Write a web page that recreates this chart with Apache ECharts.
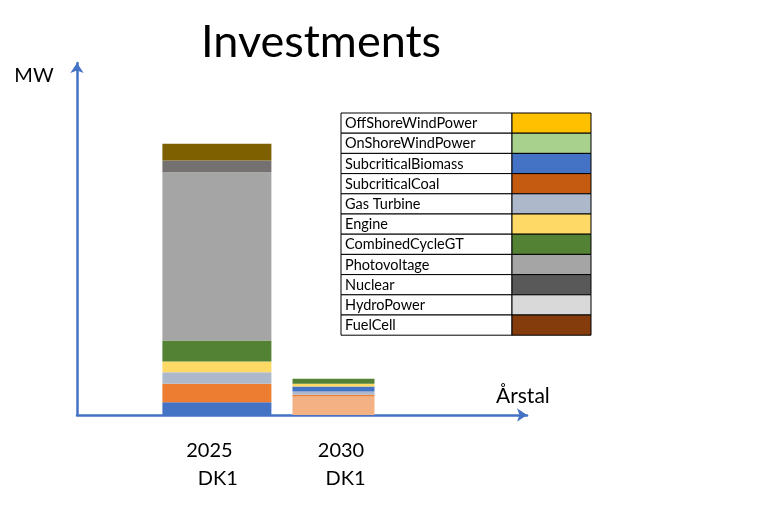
<!DOCTYPE html>
<html>
<head>
<meta charset="utf-8">
<script src="https://cdn.jsdelivr.net/npm/echarts@6/dist/echarts.min.js"></script>
<style>html,body{margin:0;padding:0;background:#fff;}#c{width:776px;height:514px;}</style>
</head>
<body>
<div id="c"></div>
<script>
// ---- data ----
const years = [2025, 2030];
const regionLabel = 'DK1';
// bar 2025 (bottom to top)
const bar2025Names = ['SubcriticalBiomass','SubcriticalCoal','Gas Turbine','Engine','CombinedCycleGT','Photovoltage','Nuclear','FuelCell'];
const bar2025Values = [128, 184, 116, 107, 210, 1683, 117, 167];
// bar 2030 (bottom to top)
const bar2030Names = ['OffShoreWindPower','SubcriticalCoal','Gas Turbine','SubcriticalBiomass','Engine','CombinedCycleGT'];
const bar2030Values = [185, 17, 33, 50, 27, 50];
// legend table
const legendNames = ['OffShoreWindPower','OnShoreWindPower','SubcriticalBiomass','SubcriticalCoal','Gas Turbine','Engine','CombinedCycleGT','Photovoltage','Nuclear','HydroPower','FuelCell'];

// ---- styles ----
const bar2025Colors = ['#4472C4','#ED7D31','#ADB9CA','#FFD966','#548235','#A5A5A5','#767171','#7F6000'];
const bar2030Colors = ['#F4B183','#ED7D31','#ADB9CA','#4472C4','#FFD966','#548235'];
const legendColors = ['#FFC000','#A9D18E','#4472C4','#C55A11','#ADB9CA','#FFD966','#548235','#A5A5A5','#595959','#D9D9D9','#843C0C'];
const FONT = 'Lato';
const axisColor = '#4472C4';
const yMax = 3520;
const xMin = 2019, xMax = 2038.3;

// main grid (axes) + one grid per bar, each centred on its year
const plotLeft = 77, plotWidth = 450, plotTop = 63, plotBottom = 99;
const yearToPx = y => plotLeft + (y - xMin) / (xMax - xMin) * plotWidth;
const barGridW = 120;

const series = [];
bar2025Names.forEach((n, i) => series.push({
  name: n, type: 'bar', stack: 's2025', xAxisIndex: 1, yAxisIndex: 1, barWidth: 109,
  itemStyle: { color: bar2025Colors[i] }, data: [bar2025Values[i]]
}));
bar2030Names.forEach((n, i) => series.push({
  name: n, type: 'bar', stack: 's2030', xAxisIndex: 2, yAxisIndex: 2, barWidth: 82,
  itemStyle: { color: bar2030Colors[i] }, data: [bar2030Values[i]]
}));

// legend table graphics
const tbl = { left: 341, top: 113, w1: 171, w2: 79, rh: 20.2 };
const graphics = [];
legendNames.forEach((n, i) => {
  const y = tbl.top + i * tbl.rh;
  graphics.push({ type: 'rect', shape: { x: tbl.left, y: y, width: tbl.w1, height: tbl.rh },
    style: { fill: '#fff', stroke: '#000', lineWidth: 1 } });
  graphics.push({ type: 'rect', shape: { x: tbl.left + tbl.w1, y: y, width: tbl.w2, height: tbl.rh },
    style: { fill: legendColors[i], stroke: '#000', lineWidth: 1 } });
  graphics.push({ type: 'text', x: tbl.left + 4, y: y + tbl.rh / 2 + 0.5,
    style: { text: n, font: '14.5px ' + FONT, fill: '#000', verticalAlign: 'middle', align: 'left' } });
});

const hiddenY = i => ({ type: 'value', gridIndex: i, min: 0, max: yMax, show: false });

const chart = echarts.init(document.getElementById('c'), null, { renderer: 'canvas' });
chart.setOption({
  backgroundColor: '#fff',
  animation: false,
  title: { text: 'Investments', left: 196, top: 15,
    textStyle: { fontFamily: FONT, fontSize: 45, fontWeight: 'normal', color: '#000' } },
  grid: [
    { left: plotLeft, width: plotWidth, top: plotTop, bottom: plotBottom },
    { left: yearToPx(years[0]) - barGridW / 2, width: barGridW, top: plotTop, bottom: plotBottom },
    { left: yearToPx(years[1]) - barGridW / 2, width: barGridW, top: plotTop, bottom: plotBottom }
  ],
  xAxis: [{
    type: 'value', gridIndex: 0, min: xMin, max: xMax,
    name: 'Årstal', nameLocation: 'end', nameGap: -31,
    nameTextStyle: { fontFamily: FONT, fontSize: 21, color: '#000', verticalAlign: 'bottom', align: 'left', padding: [0, 0, 8, 0] },
    axisLine: { lineStyle: { color: axisColor, width: 2.5 }, symbol: ['none', 'arrow'], symbolSize: [10, 10] },
    axisTick: { show: false }, splitLine: { show: false },
    axisLabel: {
      customValues: years, margin: 22, color: '#000',
      formatter: v => v === years[0] ? '{a|' + v + '}\n{b|' + regionLabel + '}' : '{c|' + v + '}\n{d|' + regionLabel + '}',
      rich: {
        a: { fontFamily: FONT, fontSize: 20, lineHeight: 28, padding: [0, 15, 0, 0], color: '#000' },
        b: { fontFamily: FONT, fontSize: 20, lineHeight: 28, padding: [0, 0, 0, 2], color: '#000' },
        c: { fontFamily: FONT, fontSize: 20, lineHeight: 28, padding: [0, 0, 0, 15], color: '#000' },
        d: { fontFamily: FONT, fontSize: 20, lineHeight: 28, padding: [0, 0, 0, 24], color: '#000' }
      }
    }
  },
  { type: 'category', gridIndex: 1, data: [String(years[0])], show: false },
  { type: 'category', gridIndex: 2, data: [String(years[1])], show: false }],
  yAxis: [{
    type: 'value', gridIndex: 0, min: 0, max: yMax,
    name: 'MW', nameLocation: 'end', nameGap: -23,
    nameTextStyle: { fontFamily: FONT, fontSize: 20, color: '#000', align: 'center', padding: [0, 86, 0, 0] },
    axisLine: { show: true, lineStyle: { color: axisColor, width: 2.5 }, symbol: ['none', 'arrow'], symbolSize: [10, 10] },
    axisTick: { show: false }, axisLabel: { show: false }, splitLine: { show: false }
  }, hiddenY(1), hiddenY(2)],
  series: series,
  graphic: graphics
});
</script>
</body>
</html>
